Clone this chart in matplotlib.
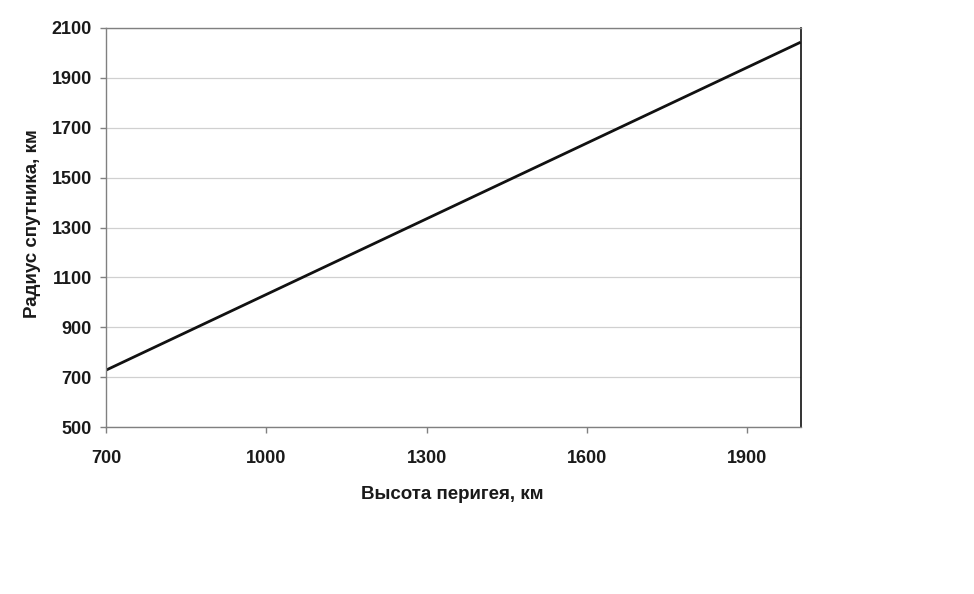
import matplotlib.pyplot as plt
import numpy as np

plt.rcParams['font.family'] = ['Liberation Sans', 'DejaVu Sans']

height = [700, 2000]
radius = [728, 2043]
xticks = [700, 1000, 1300, 1600, 1900]
yticks = [500, 700, 900, 1100, 1300, 1500, 1700, 1900, 2100]

fig = plt.figure(figsize=(9.74, 5.94), dpi=100)
ax = fig.add_axes([0.1088, 0.2811, 0.7132, 0.6718])

ax.plot(height, radius, color='#111111', lw=2.0, solid_capstyle='butt')

ax.set_xlim(700, 2000)
ax.set_ylim(500, 2100)
ax.set_xticks(xticks)
ax.set_yticks(yticks)
ax.grid(axis='y', color='#d0d0d0', lw=0.9)
ax.set_axisbelow(True)

for s in ['left', 'bottom', 'top']:
    ax.spines[s].set_color('#808080')
    ax.spines[s].set_linewidth(1.0)
ax.spines['right'].set_color('#111111')
ax.spines['right'].set_linewidth(1.2)

ax.tick_params(axis='both', colors='#808080', length=4.3, width=1.0,
               labelcolor='#1a1a1a', labelsize=13)
ax.tick_params(axis='x', pad=12)
ax.tick_params(axis='y', pad=6)
for lab in ax.get_xticklabels() + ax.get_yticklabels():
    lab.set_fontweight('bold')

ax.set_xlabel('Высота перигея, км', fontsize=13.5, fontweight='bold',
              color='#1a1a1a', va='center')
ax.xaxis.set_label_coords(0.499, -0.17)
ax.set_ylabel('Радиус спутника, км', fontsize=13.5, fontweight='bold',
              color='#1a1a1a', va='center')
ax.yaxis.set_label_coords(-0.106, 0.509)

fig.savefig('out.png', dpi=100)
